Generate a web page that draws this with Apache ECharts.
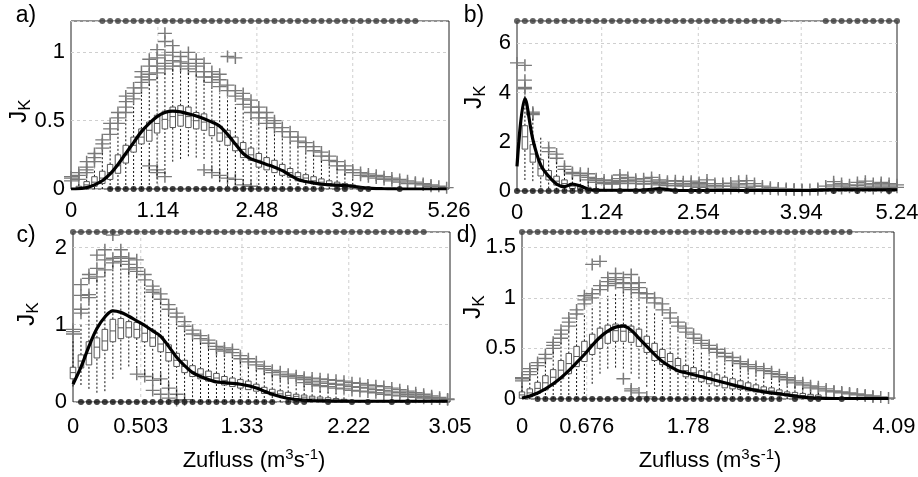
<!DOCTYPE html>
<html>
<head>
<meta charset="utf-8">
<title>J_K gegen Zufluss</title>
<script src="https://cdn.jsdelivr.net/npm/echarts@6/dist/echarts.min.js"></script>
<style>
    html, body { margin: 0; padding: 0; background: #fff; }
    #jk_panels { width: 918px; height: 477px; }
</style>
</head>
<body>
<div id="jk_panels"></div>
<script>

// ------------------------------
// Data (x = class index along Zufluss)
// ------------------------------

// Panel a
var aTicks = [0, 11.1, 23.75, 36.0, 48.3];
var aTickLabels = ['0', '1.14', '2.48', '3.92', '5.26'];
var aLo  = [null, 0, 0, 0, 0, 0, 0, 0, 0, 0, 0, 0.04, 0.11, 0.20, 0.22, 0.24, 0.23, 0.22, 0.13, 0.05, 0.02, 0, 0, 0, 0, 0, 0, 0, 0, 0, 0, 0, 0, 0, 0, 0, 0];
var aQ1  = [null, 0, 0.01, 0.02, 0.04, 0.07, 0.115, 0.19, 0.27, 0.33, 0.35, 0.41, 0.44, 0.45, 0.46, 0.45, 0.44, 0.43, 0.39, 0.35, 0.32, 0.28, 0.23, 0.21, 0.16, 0.14, 0.12, 0.10, 0.086, 0.06, 0.05, 0.037, 0.03, 0.025, 0.017, 0.012, 0.008];
var aMed = [null, 0.01, 0.03, 0.05, 0.08, 0.12, 0.17, 0.25, 0.32, 0.38, 0.43, 0.48, 0.51, 0.53, 0.54, 0.53, 0.50, 0.49, 0.45, 0.41, 0.38, 0.33, 0.29, 0.25, 0.21, 0.18, 0.16, 0.14, 0.12, 0.09, 0.08, 0.06, 0.05, 0.04, 0.03, 0.025, 0.015];
var aQ3  = [null, 0.02, 0.054, 0.09, 0.13, 0.18, 0.25, 0.32, 0.38, 0.44, 0.49, 0.54, 0.57, 0.60, 0.61, 0.60, 0.56, 0.55, 0.50, 0.46, 0.43, 0.38, 0.34, 0.30, 0.26, 0.23, 0.21, 0.18, 0.15, 0.12, 0.105, 0.09, 0.074, 0.06, 0.05, 0.04, 0.03];
var aHi  = [null, 0.04, 0.09, 0.15, 0.28, 0.36, 0.44, 0.52, 0.62, 0.71, 0.77, 0.82, 0.85, 0.88, 0.88, 0.87, 0.85, 0.80, 0.74, 0.70, 0.67, 0.62, 0.57, 0.53, 0.49, 0.46, 0.42, 0.39, 0.35, 0.32, 0.28, 0.25, 0.21, 0.18, 0.15, 0.12, 0.08];
var aOutliers = [
    [0.06, 0.08, 0.09], [0.07, 0.1, 0.12], [0.12, 0.14, 0.16, 0.2], [0.2, 0.23, 0.26], [0.3, 0.33, 0.36],
    [0.4, 0.44, 0.48], [0.48, 0.52, 0.56], [0.56, 0.6, 0.64, 0.68], [0.66, 0.7, 0.74], [0.74, 0.78, 0.82, 0.86],
    [0.8, 0.84, 0.9, 0.95, 0.17], [0.85, 0.9, 0.96, 1.02, 0.14, 0.12], [0.88, 0.92, 0.98, 1.08, 1.14, 0.09], [0.9, 0.94, 1.0, 1.05], [0.9, 0.93, 0.97],
    [0.88, 0.92, 1.0], [0.86, 0.9, 0.95], [0.82, 0.86, 0.92, 0.14], [0.78, 0.82, 0.86, 0.12], [0.75, 0.8, 0.84, 0.1],
    [0.72, 0.76, 0.97, 0.08], [0.68, 0.72, 0.96, 0.07], [0.62, 0.66, 0.7, 0.03], [0.56, 0.6, 0.65, 0.02], [0.52, 0.56, 0.6],
    [0.48, 0.52, 0.56], [0.45, 0.48, 0.5], [0.42, 0.45], [0.38, 0.42], [0.35, 0.38],
    [0.31, 0.34], [0.28, 0.31], [0.24, 0.27], [0.21, 0.24], [0.17, 0.2],
    [0.14, 0.17], [0.12, 0.14], [0.1, 0.12], [0.09, 0.11], [0.08, 0.1],
    [0.07, 0.09], [0.06, 0.08], [0.05, 0.07], [0.04, 0.06], [0.04, 0.05],
    [0.03, 0.04], [0.02, 0.03], [0.02], [0.01]
];
var aCurve = [0, 0.002, 0.01, 0.03, 0.06, 0.11, 0.18, 0.26, 0.34, 0.42, 0.48, 0.53, 0.56, 0.57, 0.565, 0.55, 0.535, 0.515, 0.49, 0.46,
    0.40, 0.33, 0.26, 0.22, 0.20, 0.18, 0.16, 0.135, 0.10, 0.07, 0.055, 0.045, 0.035, 0.03, 0.028, 0.025, 0.02, 0.012, 0.006, 0.003,
    0.002, 0.001, 0, 0, 0, 0, 0, 0, 0];
var aTopDots = [4, 5, 6, 7, 8, 9, 10, 11, 12, 13, 14, 15, 16, 17, 18, 19, 20, 21, 22, 23, 24, 25, 26, 27, 28, 29, 30, 31, 32, 33, 34, 35, 36, 37, 38, 39, 40, 41, 42, 43, 44];
var aZeroDots = [5, 6, 7, 8, 9, 10, 11, 12, 13, 14, 15, 16, 17, 18, 19, 20, 21, 22, 23, 24, 25, 26, 27, 28, 29, 30, 31, 32, 34, 35, 37, 38, 42];

// Panel b
var bTicks = [0, 10.7, 22.9, 35.9, 48];
var bTickLabels = ['0', '1.24', '2.54', '3.94', '5.24'];
var bLo  = [null, 0.45, 0.4, 0.15, 0.1, 0.05, 0.03, 0, 0, 0, 0, 0];
var bQ1  = [null, 1.7, 1.17, 0.61, 0.45, 0.24, 0.18, 0.1, 0.06, 0.04, 0.02, 0.01];
var bMed = [null, 2.2, 1.5, 0.9, 0.6, 0.4, 0.3, 0.2, 0.12, 0.08, 0.05, 0.03];
var bQ3  = [null, 2.65, 1.88, 1.27, 0.83, 0.6, 0.45, 0.3, 0.22, 0.15, 0.1, 0.06];
var bHi  = [null, 3.9, 3.0, 2.2, 1.5, 1.2, 0.85, 0.62, 0.5, 0.38, 0.28, 0.2];
var bOutliers = [
    [5.2], [5.1, 4.5, 4.2, 4.15], [3.2, 3.15, 3.1], [], [1.75, 1.6],
    [1.5, 1.33], [1.0, 0.88], [0.75, 0.7], [0.72, 0.62], [0.7, 0.55, 0.45],
    [0.5, 0.42, 0.35], [0.45, 0.35, 0.3], [0.42, 0.35, 0.28], [0.65, 0.5, 0.38, 0.3], [0.55, 0.42, 0.32],
    [0.48, 0.4, 0.3], [0.5, 0.38, 0.28], [0.55, 0.4, 0.3], [0.45, 0.35, 0.25], [0.4, 0.3, 0.22],
    [0.42, 0.3, 0.22], [0.38, 0.28, 0.2], [0.4, 0.3, 0.2], [0.35, 0.25, 0.15], [0.45, 0.3, 0.2],
    [0.3, 0.22, 0.12], [0.3, 0.2, 0.1], [0.32, 0.2, 0.1], [0.4, 0.25, 0.15], [0.42, 0.3, 0.15],
    [0.3, 0.2, 0.1], [0.2, 0.1], [0.15, 0.08], [0.12, 0.06], [0.1, 0.05],
    [0.08, 0.04], [0.06, 0.03], [0.06], [0.1, 0.05], [0.2, 0.1],
    [0.38, 0.25, 0.12], [0.3, 0.2, 0.1], [0.25, 0.15], [0.35, 0.22, 0.12], [0.4, 0.28, 0.15],
    [0.3, 0.2, 0.1], [0.35, 0.25, 0.15], [0.3, 0.2, 0.1], [0.25, 0.15]
];
var bCurve = [1.0, 3.75, 2.1, 1.05, 0.6, 0.28, 0.18, 0.28, 0.2, 0.07,
    0.03, 0.03, 0.03, 0.03, 0.03, 0.03, 0.04, 0.07, 0.1, 0.06,
    0.03, 0.02, 0.02, 0.02, 0.02, 0.02, 0.02, 0.02, 0.02, 0.02,
    0.02, 0.02, 0.02, 0.02, 0.02, 0.02, 0.02, 0.02, 0.03, 0.04,
    0.05, 0.05, 0.05, 0.05, 0.05, 0.05, 0.05, 0.05, 0.05];
var bTopDots = [0, 1, 2, 3, 4, 5, 6, 7, 8, 9, 10, 11, 12, 13, 14, 15, 16, 17, 18, 19, 20, 21, 22, 23, 24, 25, 26, 27, 28, 29, 30, 31, 32, 33, 39, 40, 41, 42, 43, 44, 45, 46, 47, 48];
var bZeroDots = [0, 1, 2, 3, 4, 5, 6, 7, 8, 9, 10, 13, 15, 16, 17, 18, 20, 22, 23, 24, 29, 40, 43, 47];

// Panel c
var cTicks = [0, 8.5, 21.2, 34.6, 47.3];
var cTickLabels = ['0', '0.503', '1.33', '2.22', '3.05'];
var cLo  = [0.2, 0.22, 0.17, 0.12, 0.14, 0.3, 0.42, 0.46, 0.44, 0.35, 0.3, 0.22, 0.15, 0.08, 0.04, 0.01, 0, 0, 0, 0, 0, 0, 0, 0, 0, 0, 0, 0, 0, 0, 0, 0, 0, 0, 0];
var cQ1  = [0.3, 0.44, 0.48, 0.57, 0.67, 0.78, 0.82, 0.84, 0.83, 0.78, 0.72, 0.65, 0.53, 0.46, 0.38, 0.33, 0.3, 0.27, 0.25, 0.22, 0.2, 0.18, 0.16, 0.14, 0.11, 0.09, 0.075, 0.055, 0.045, 0.035, 0.025, 0.017, 0.012, 0.007, 0.003];
var cMed = [0.38, 0.53, 0.63, 0.71, 0.79, 0.92, 0.96, 0.96, 0.94, 0.89, 0.83, 0.75, 0.64, 0.54, 0.46, 0.39, 0.36, 0.33, 0.31, 0.28, 0.25, 0.24, 0.22, 0.19, 0.15, 0.125, 0.105, 0.085, 0.073, 0.063, 0.05, 0.04, 0.032, 0.025, 0.018];
var cQ3  = [0.45, 0.61, 0.78, 0.83, 0.94, 1.07, 1.08, 1.04, 1.03, 0.99, 0.93, 0.85, 0.74, 0.63, 0.54, 0.47, 0.43, 0.4, 0.37, 0.33, 0.31, 0.29, 0.27, 0.23, 0.19, 0.165, 0.145, 0.125, 0.1, 0.09, 0.075, 0.065, 0.055, 0.045, 0.035];
var cHi  = [0.8, 1.0, 1.3, 1.6, 1.68, 1.77, 1.79, 1.68, 1.66, 1.52, 1.4, 1.29, 1.15, 1.04, 0.92, 0.83, 0.77, 0.72, 0.64, 0.6, 0.58, 0.52, 0.48, 0.44, 0.4, 0.36, 0.31, 0.28, 0.24, 0.21, 0.18, 0.15, 0.13, 0.11, 0.09];
var cOutliers = [
    [0.88, 0.91, 0.94], [1.52, 1.38, 1.2, 1.15], [1.65, 1.6, 1.39, 1.35], [1.9, 1.73, 1.62], [1.97, 1.84, 1.71],
    [2.16, 1.86, 1.8], [1.97, 1.88, 1.82], [1.86, 1.78, 1.72], [1.84, 1.74, 1.69, 0.36], [1.65, 1.58, 0.33],
    [1.5, 1.45, 1.42, 0.28, 0.15], [1.4, 1.33, 0.3, 0.1], [1.26, 1.2, 0.18, 0.05], [1.15, 1.1, 0.1, 0.02], [1.04, 0.98, 0.03],
    [0.93, 0.88], [0.86, 0.82], [0.8, 0.76], [0.72, 0.68], [0.7, 0.66],
    [0.68, 0.64], [0.6, 0.56], [0.56, 0.52], [0.52, 0.48], [0.46, 0.43],
    [0.41, 0.38], [0.39, 0.35], [0.36, 0.33], [0.34, 0.31], [0.32, 0.29, 0.25],
    [0.31, 0.27, 0.23], [0.3, 0.26, 0.21], [0.29, 0.24, 0.2], [0.28, 0.23, 0.18], [0.27, 0.22, 0.17],
    [0.25, 0.2, 0.15], [0.24, 0.19, 0.14], [0.22, 0.18, 0.13], [0.21, 0.16, 0.12], [0.2, 0.15, 0.1],
    [0.18, 0.13, 0.09], [0.16, 0.12, 0.08], [0.14, 0.1, 0.07], [0.12, 0.09, 0.06], [0.1, 0.07, 0.05],
    [0.08, 0.06, 0.04], [0.06, 0.04], [0.04, 0.03]
];
var cCurve = [0.23, 0.45, 0.72, 0.95, 1.1, 1.18, 1.16, 1.11, 1.05, 0.99,
    0.92, 0.85, 0.72, 0.58, 0.47, 0.38, 0.33, 0.29, 0.26, 0.25,
    0.24, 0.23, 0.21, 0.18, 0.14, 0.1, 0.07, 0.045, 0.03, 0.022,
    0.018, 0.015, 0.013, 0.012, 0.011, 0.01, 0.01, 0.01, 0.01, 0.01,
    0.01, 0.01, 0.01, 0.01, 0.01, 0.01, 0.01, 0.01];
var cTopDots = [0, 1, 2, 3, 4, 5, 6, 7, 8, 9, 10, 11, 12, 13, 14, 15, 16, 17, 18, 19, 20, 21, 22, 23, 24, 25, 26, 27, 28, 29, 30, 31, 32, 33, 34, 35, 36, 37, 38, 39, 40, 41, 42, 43, 44];
var cZeroDots = [1, 2, 3, 4, 5, 6, 7, 8, 9, 10, 11, 12, 13, 14, 15, 16, 17, 18, 19, 20, 21, 22, 23, 24, 25, 27, 28, 29, 32, 35, 37, 40, 42];

// Panel d
var dTicks = [0, 8.3, 21.3, 35.0, 47.7];
var dTickLabels = ['0', '0.676', '1.78', '2.98', '4.09'];
var dLo  = [0, 0, 0, 0, 0, 0, 0, 0, 0.05, 0.15, 0.25, 0.3, 0.31, 0.3, 0.25, 0.2, 0.12, 0.05, 0, 0, 0, 0, 0, 0, 0, 0, 0, 0, 0, 0, 0, 0, 0, 0, 0, 0, 0, 0, 0];
var dQ1  = [0.007, 0.02, 0.055, 0.09, 0.145, 0.2, 0.25, 0.32, 0.37, 0.44, 0.5, 0.55, 0.57, 0.57, 0.56, 0.52, 0.46, 0.38, 0.34, 0.3, 0.27, 0.22, 0.2, 0.17, 0.15, 0.13, 0.11, 0.1, 0.095, 0.08, 0.07, 0.06, 0.05, 0.04, 0.03, 0.022, 0.016, 0.012, 0.007];
var dMed = [0.04, 0.06, 0.105, 0.16, 0.215, 0.285, 0.35, 0.42, 0.47, 0.54, 0.6, 0.66, 0.675, 0.67, 0.66, 0.61, 0.55, 0.47, 0.41, 0.37, 0.33, 0.28, 0.26, 0.23, 0.21, 0.18, 0.16, 0.145, 0.135, 0.115, 0.1, 0.09, 0.08, 0.065, 0.05, 0.043, 0.034, 0.028, 0.02];
var dQ3  = [0.07, 0.1, 0.165, 0.23, 0.29, 0.38, 0.45, 0.52, 0.57, 0.64, 0.7, 0.73, 0.74, 0.735, 0.72, 0.69, 0.62, 0.55, 0.49, 0.45, 0.4, 0.33, 0.31, 0.28, 0.265, 0.24, 0.215, 0.2, 0.18, 0.16, 0.14, 0.12, 0.11, 0.09, 0.07, 0.065, 0.055, 0.046, 0.04];
var dHi  = [0.15, 0.22, 0.3, 0.38, 0.47, 0.57, 0.67, 0.77, 0.85, 0.92, 0.98, 1.02, 1.05, 1.06, 1.04, 1.0, 0.93, 0.86, 0.78, 0.7, 0.64, 0.58, 0.52, 0.47, 0.43, 0.4, 0.37, 0.34, 0.31, 0.28, 0.26, 0.23, 0.2, 0.18, 0.15, 0.13, 0.11, 0.09, 0.07];
var dOutliers = [
    [0.18, 0.2, 0.21], [0.24, 0.27, 0.3], [0.33, 0.36], [0.4, 0.44], [0.5, 0.53, 0.56],
    [0.6, 0.64, 0.68], [0.72, 0.76, 0.8], [0.84, 0.88], [0.94, 0.98, 1.02], [1.0, 1.04, 1.33],
    [1.08, 1.12, 1.36], [1.12, 1.16, 1.2], [1.14, 1.18, 1.24], [1.1, 1.15, 1.2, 0.2], [1.08, 1.14, 1.23, 0.08, 0.1],
    [1.05, 1.1, 1.15, 0.06], [1.0, 1.04, 0.02], [0.95, 1.0], [0.88, 0.94], [0.8, 0.85],
    [0.72, 0.76], [0.66, 0.7], [0.6, 0.64], [0.55, 0.58], [0.5, 0.53],
    [0.46, 0.49], [0.42, 0.45], [0.38, 0.41], [0.35, 0.37], [0.32, 0.34],
    [0.3, 0.32], [0.28, 0.3], [0.25, 0.27], [0.22, 0.24], [0.19, 0.21],
    [0.16, 0.18], [0.14, 0.16], [0.11, 0.13], [0.1, 0.12], [0.08, 0.1],
    [0.07, 0.08], [0.06, 0.07], [0.05, 0.06], [0.04, 0.05], [0.03, 0.04],
    [0.02, 0.03], [0.02], [0.01]
];
var dCurve = [0.01, 0.03, 0.06, 0.1, 0.15, 0.21, 0.28, 0.36, 0.44, 0.53,
    0.61, 0.67, 0.71, 0.72, 0.68, 0.6, 0.52, 0.44, 0.37, 0.32,
    0.28, 0.26, 0.24, 0.22, 0.2, 0.18, 0.16, 0.14, 0.12, 0.1,
    0.085, 0.07, 0.06, 0.05, 0.04, 0.028, 0.018, 0.012, 0.008, 0.006,
    0.005, 0.005, 0.005, 0.005, 0.005, 0.005, 0.005, 0.005];
var dTopDots = [0, 1, 2, 3, 4, 5, 6, 7, 8, 9, 10, 11, 12, 13, 14, 15, 16, 17, 18, 19, 20, 21, 22, 23, 24, 25, 26, 27, 28, 29, 30, 31, 32, 33, 34, 35, 36, 37, 38, 39, 40, 41, 42];
var dZeroDots = [2, 3, 4, 5, 6, 7, 8, 9, 10, 11, 12, 13, 14, 15, 16, 17, 18, 19, 20, 21, 22, 23, 24, 25, 26, 27, 28, 29, 30, 31, 32, 33, 35, 37, 38, 41];


// Setup module
// ------------------------------

var ZuflussPanels = function() {

    var FONT = '"Liberation Sans", Arial, Helvetica, sans-serif';
    var CROSS = 'path://M0,6L12,6M6,0L6,12';

    // Panel layout and axis ranges
    var panels = [
        { letter: 'a)', letterPos: [26, 16], jkPos: [19, 111], grid: { left: 71, top: 21, width: 378, height: 168 },
          xMax: 48.3, yMax: 1.23, yStep: 0.5, labelMargin: 11,
          ticks: aTicks, tickLabels: aTickLabels, lo: aLo, q1: aQ1, med: aMed, q3: aQ3, hi: aHi,
          outliers: aOutliers, curve: aCurve, topDots: aTopDots, zeroDots: aZeroDots },
        { letter: 'b)', letterPos: [474, 16], jkPos: [474, 97], grid: { left: 517, top: 21, width: 380, height: 170 },
          xMax: 48, yMax: 6.9, yStep: 2, labelMargin: 11,
          ticks: bTicks, tickLabels: bTickLabels, lo: bLo, q1: bQ1, med: bMed, q3: bQ3, hi: bHi,
          outliers: bOutliers, curve: bCurve, topDots: bTopDots, zeroDots: bZeroDots },
        { letter: 'c)', letterPos: [26, 236], jkPos: [27, 314], grid: { left: 73, top: 232, width: 377, height: 170 },
          xMax: 47.3, yMax: 2.2, yStep: 1, labelMargin: 14,
          ticks: cTicks, tickLabels: cTickLabels, lo: cLo, q1: cQ1, med: cMed, q3: cQ3, hi: cHi,
          outliers: cOutliers, curve: cCurve, topDots: cTopDots, zeroDots: cZeroDots },
        { letter: 'd)', letterPos: [467, 236], jkPos: [473, 307], grid: { left: 522, top: 232, width: 372, height: 167 },
          xMax: 47.7, yMax: 1.65, yStep: 0.5, labelMargin: 17,
          ticks: dTicks, tickLabels: dTickLabels, lo: dLo, q1: dQ1, med: dMed, q3: dQ3, hi: dHi,
          outliers: dOutliers, curve: dCurve, topDots: dTopDots, zeroDots: dZeroDots }
    ];

    // Box with dashed whiskers
    var renderBox = function(params, api) {
        var x = api.value(0);
        var pLo = api.coord([x, api.value(1)]);
        var pQ1 = api.coord([x, api.value(2)]);
        var pMed = api.coord([x, api.value(3)]);
        var pQ3 = api.coord([x, api.value(4)]);
        var pHi = api.coord([x, api.value(5)]);
        var half = api.size([0.7, 0])[0] / 2;
        return {
            type: 'group',
            children: [
                { type: 'line', shape: { x1: pLo[0], y1: pLo[1], x2: pQ1[0], y2: pQ1[1] },
                  style: { stroke: '#111', lineWidth: 1, lineDash: [2, 2] } },
                { type: 'line', shape: { x1: pQ3[0], y1: pQ3[1], x2: pHi[0], y2: pHi[1] },
                  style: { stroke: '#111', lineWidth: 1, lineDash: [2, 2] } },
                { type: 'rect', shape: { x: pQ3[0] - half, y: pQ3[1], width: half * 2, height: Math.max(pQ1[1] - pQ3[1], 1) },
                  style: { fill: '#fff', stroke: '#555', lineWidth: 1 } },
                { type: 'line', shape: { x1: pMed[0] - half, y1: pMed[1], x2: pMed[0] + half, y2: pMed[1] },
                  style: { stroke: '#555', lineWidth: 1 } }
            ]
        };
    };

    // Dashed vertical grid line at a tick
    var renderVGrid = function(params, api) {
        var top = api.coord([api.value(0), api.value(1)]);
        var bottom = api.coord([api.value(0), 0]);
        return {
            type: 'line',
            shape: { x1: top[0], y1: top[1], x2: bottom[0], y2: bottom[1] },
            style: { stroke: '#cfcfcf', lineWidth: 1, lineDash: [3, 3] }
        };
    };

    var _buildOption = function() {
        var grids = [], xAxes = [], yAxes = [], series = [], graphics = [];

        panels.forEach(function(p, i) {

            grids.push({
                left: p.grid.left, top: p.grid.top, width: p.grid.width, height: p.grid.height,
                show: true, borderColor: '#222', borderWidth: 1, backgroundColor: 'transparent',
                containLabel: false, outerBoundsMode: 'none'
            });

            xAxes.push({
                gridIndex: i, type: 'value', min: 0, max: p.xMax,
                axisLine: { show: false }, axisTick: { show: false }, splitLine: { show: false },
                axisLabel: {
                    customValues: p.ticks,
                    margin: p.labelMargin,
                    fontSize: 22, fontFamily: FONT, color: '#000',
                    formatter: function(v) {
                        for (var k = 0; k < p.ticks.length; k++) {
                            if (Math.abs(p.ticks[k] - v) < 1e-6) return p.tickLabels[k];
                        }
                        return '';
                    }
                }
            });

            yAxes.push({
                gridIndex: i, type: 'value', min: 0, max: p.yMax, interval: p.yStep,
                axisLine: { show: false }, axisTick: { show: false },
                splitLine: { show: true, lineStyle: { color: '#cfcfcf', type: [3, 3], width: 1 } },
                axisLabel: { fontSize: 22, fontFamily: FONT, color: '#000', margin: 6, showMaxLabel: false }
            });

            // Tables built from the named arrays
            var boxRows = [];
            for (var k = 0; k < p.q1.length; k++) {
                if (p.q1[k] === null) continue;
                boxRows.push([k, p.lo[k], p.q1[k], p.med[k], p.q3[k], p.hi[k]]);
            }
            var outRows = [];
            p.outliers.forEach(function(vals, k) {
                vals.forEach(function(v) { outRows.push([k, v]); });
            });
            var curveRows = p.curve.map(function(v, k) { return [k, v]; });
            var topRows = p.topDots.map(function(k) { return [k, p.yMax]; });
            var zeroRows = p.zeroDots.map(function(k) { return [k, 0]; });
            var gridRows = p.ticks.slice(1, p.ticks.length - 1).map(function(t) { return [t, p.yMax]; });

            series.push({
                type: 'custom', xAxisIndex: i, yAxisIndex: i, z: 1, silent: true,
                renderItem: renderVGrid, encode: { x: 0, y: 1 }, data: gridRows
            });
            series.push({
                type: 'scatter', xAxisIndex: i, yAxisIndex: i, z: 2, silent: true,
                symbol: CROSS, symbolSize: [14, 12],
                itemStyle: { color: 'rgba(0,0,0,0)', borderColor: '#7a7a7a', borderWidth: 1.4, opacity: 1 },
                data: outRows
            });
            series.push({
                type: 'custom', xAxisIndex: i, yAxisIndex: i, z: 3, silent: true,
                renderItem: renderBox, encode: { x: 0, y: [1, 2, 3, 4, 5] }, data: boxRows
            });
            series.push({
                type: 'line', xAxisIndex: i, yAxisIndex: i, z: 4, silent: true,
                smooth: 0.35, showSymbol: false, symbol: 'none',
                lineStyle: { color: '#000', width: 3.2 },
                data: curveRows
            });
            series.push({
                type: 'scatter', xAxisIndex: i, yAxisIndex: i, z: 5, silent: true, clip: false,
                symbol: 'circle', symbolSize: 6, itemStyle: { color: '#3c3c3c' },
                data: topRows
            });
            series.push({
                type: 'scatter', xAxisIndex: i, yAxisIndex: i, z: 5, silent: true, clip: false,
                symbol: 'circle', symbolSize: 6, itemStyle: { color: '#111' },
                data: zeroRows
            });

            // Panel letter
            graphics.push({
                type: 'text', x: p.letterPos[0], y: p.letterPos[1], silent: true,
                style: { text: p.letter, fontSize: 23, fontFamily: FONT, fill: '#000', align: 'center', verticalAlign: 'middle' }
            });

            // Y axis name J_K
            graphics.push({
                type: 'text', x: p.jkPos[0], y: p.jkPos[1], rotation: Math.PI / 2, silent: true,
                style: {
                    text: '{j|J}{k|K}', align: 'center', verticalAlign: 'middle', fill: '#000',
                    rich: {
                        j: { fontSize: 24, fontFamily: FONT, lineHeight: 30, fill: '#000' },
                        k: { fontSize: 17, fontFamily: FONT, lineHeight: 16, verticalAlign: 'bottom', fill: '#000' }
                    }
                }
            });
        });

        // X axis names under the lower panels
        [[254, 461], [710, 461]].forEach(function(pos) {
            graphics.push({
                type: 'text', x: pos[0], y: pos[1], silent: true,
                style: {
                    text: '{t|Zufluss (m}{s|3}{t|s}{s|-1}{t|)}', align: 'center', verticalAlign: 'middle', fill: '#000',
                    rich: {
                        t: { fontSize: 22, fontFamily: FONT, lineHeight: 28, fill: '#000' },
                        s: { fontSize: 15, fontFamily: FONT, lineHeight: 14, verticalAlign: 'top', fill: '#000' }
                    }
                }
            });
        });

        return {
            backgroundColor: '#fff',
            animation: false,
            textStyle: { fontFamily: FONT },
            grid: grids,
            xAxis: xAxes,
            yAxis: yAxes,
            series: series,
            graphic: graphics
        };
    };

    var _init = function() {
        if (typeof echarts == 'undefined') {
            console.warn('Warning - echarts.min.js is not loaded.');
            return;
        }
        var element = document.getElementById('jk_panels');
        if (!element) return;
        var chart = echarts.init(element, null, { renderer: 'canvas' });
        chart.setOption(_buildOption());
    };

    return {
        init: _init
    };
}();


// Initialize module
// ------------------------------

document.addEventListener('DOMContentLoaded', function() {
    ZuflussPanels.init();
});
</script>
</body>
</html>
